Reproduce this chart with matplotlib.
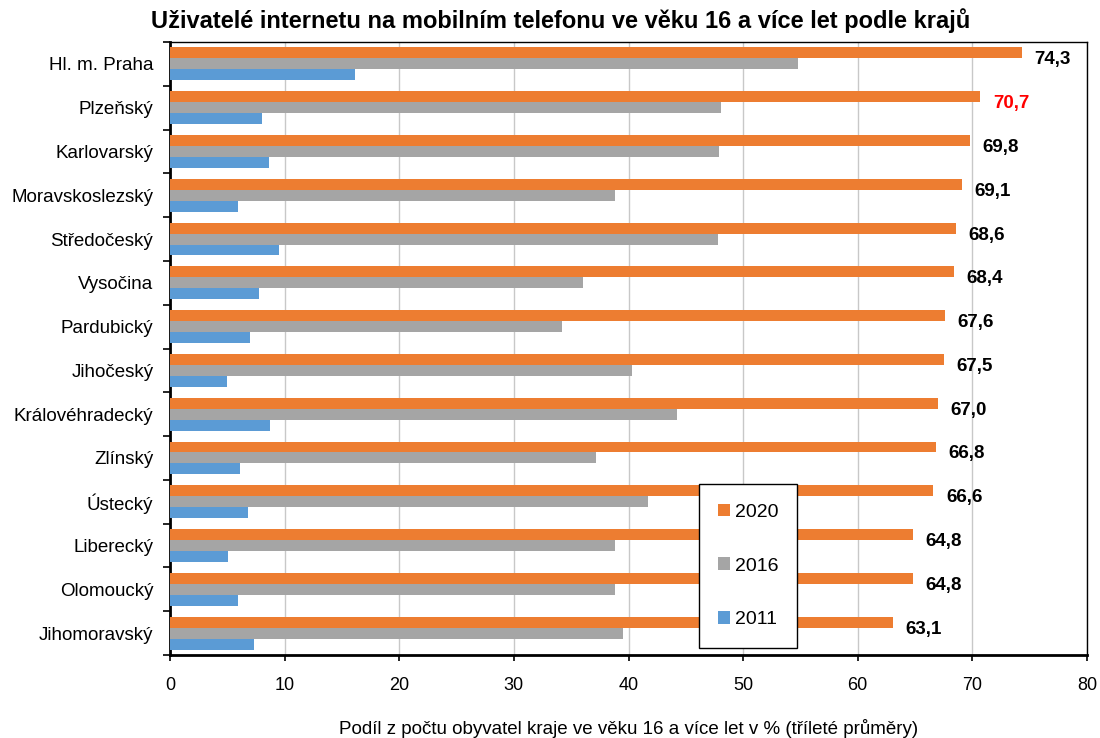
import matplotlib
matplotlib.use("Agg")
import matplotlib.pyplot as plt
import numpy as np

plt.rcParams['font.family'] = ['Liberation Sans', 'DejaVu Sans']

regions = ["Hl. m. Praha", "Plzeňský", "Karlovarský", "Moravskoslezský", "Středočeský",
           "Vysočina", "Pardubický", "Jihočeský", "Královéhradecký", "Zlínský",
           "Ústecký", "Liberecký", "Olomoucký", "Jihomoravský"]
v2020 = [74.3, 70.7, 69.8, 69.1, 68.6, 68.4, 67.6, 67.5, 67.0, 66.8, 66.6, 64.8, 64.8, 63.1]
v2016 = [54.8, 48.1, 47.9, 38.8, 47.8, 36.0, 34.2, 40.3, 44.2, 37.2, 41.7, 38.8, 38.8, 39.5]
v2011 = [16.1, 8.0, 8.6, 5.9, 9.5, 7.8, 7.0, 5.0, 8.7, 6.1, 6.8, 5.1, 5.9, 7.3]
highlight = "Plzeňský"

c2020 = "#ED7D31"
c2016 = "#A5A5A5"
c2011 = "#5B9BD5"

fig = plt.figure(figsize=(11, 7.38), dpi=100)
ax = fig.add_axes([170/1100, 1-655/738, (1087-170)/1100, (655-42)/738])

y = np.arange(len(regions))
h = 0.25
b1 = ax.barh(y - h, v2020, height=h, color=c2020, label="2020", zorder=3)
b2 = ax.barh(y, v2016, height=h, color=c2016, label="2016", zorder=3)
b3 = ax.barh(y + h, v2011, height=h, color=c2011, label="2011", zorder=3)

for i, (name, v) in enumerate(zip(regions, v2020)):
    col = "#FF0000" if name == highlight else "black"
    ax.annotate(f"{v:.1f}".replace(".", ","), xy=(v, i - h), xytext=(9, -5),
                textcoords="offset points", ha="left", va="center",
                fontsize=13.5, fontweight="bold", color=col, zorder=4)

ax.set_xlim(0, 80)
ax.set_ylim(len(regions) - 0.5, -0.5)
ax.set_xticks(np.arange(0, 81, 10))
ax.tick_params(axis='x', labelsize=13, length=4, width=1.2, direction='out', pad=12)
ax.set_yticks(y)
ax.set_yticklabels(regions, fontsize=13.5)
ax.tick_params(axis='y', which='major', length=0, pad=12)
ax.set_yticks(np.arange(-0.5, len(regions), 1), minor=True)
ax.tick_params(axis='y', which='minor', length=5, width=1.2, direction='out')

ax.grid(axis='x', color='#C8C8C8', linewidth=1, zorder=0)
ax.set_axisbelow(True)
for s in ['top', 'right']:
    ax.spines[s].set_linewidth(1)
    ax.spines[s].set_color('black')
for s in ['left', 'bottom']:
    ax.spines[s].set_linewidth(2)
    ax.spines[s].set_color('black')

ax.set_xlabel("Podíl z počtu obyvatel kraje ve věku 16 a více let v % (tříleté průměry)",
              fontsize=13.5, labelpad=18)

fig.text(561/1100, 1-21/738, "Uživatelé internetu na mobilním telefonu ve věku 16 a více let podle krajů",
         ha="center", va="center", fontsize=17, fontweight="bold")

leg = ax.legend(handles=[b1, b2, b3], loc="center",
                bbox_to_anchor=(748/1100, 1-566/738),
                bbox_transform=fig.transFigure,
                fontsize=14, frameon=True, fancybox=False, edgecolor="black",
                framealpha=1, facecolor="white",
                handlelength=0.6, handleheight=0.6, handletextpad=0.25,
                labelspacing=1.9, borderpad=1.0, borderaxespad=0)
leg.get_frame().set_linewidth(1)
leg.set_zorder(5)

fig.savefig("out.png", dpi=100)
